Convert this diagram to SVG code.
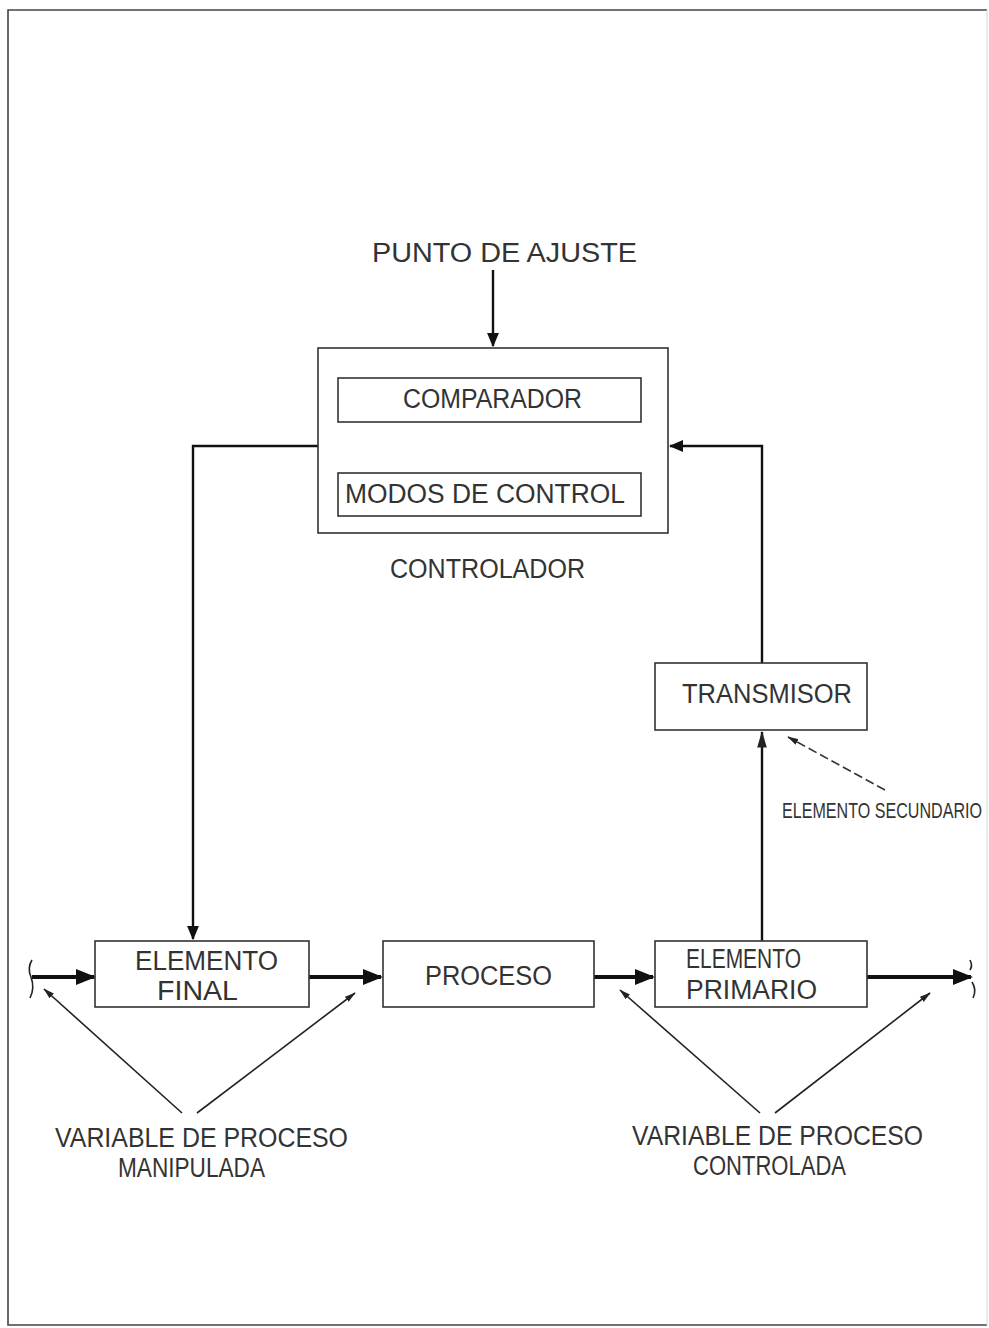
<svg xmlns="http://www.w3.org/2000/svg" width="989" height="1328" viewBox="0 0 989 1328">
<style>
.box{fill:none;stroke:#333;stroke-width:1.6}
.t{font-family:"Liberation Sans","DejaVu Sans",sans-serif;font-size:27px;fill:#333;}
.ts{font-family:"Liberation Sans","DejaVu Sans",sans-serif;font-size:16.2px;fill:#333;}
.flow{fill:none;stroke:#111;stroke-width:4}
.conn{fill:none;stroke:#111;stroke-width:2.4}
.diag{fill:none;stroke:#222;stroke-width:1.6}
.dash{fill:none;stroke:#333;stroke-width:1.6;stroke-dasharray:9 4}
</style>
<defs>
<marker id="big" markerWidth="5" markerHeight="4" refX="4.5" refY="2" orient="auto" markerUnits="strokeWidth"><path d="M0,0 L5,2 L0,4 Z" fill="#111"/></marker>
<marker id="med" markerWidth="6" markerHeight="5" refX="5.5" refY="2.5" orient="auto" markerUnits="strokeWidth"><path d="M0,0 L6,2.5 L0,5 Z" fill="#111"/></marker>
<marker id="sm" markerWidth="7" markerHeight="5" refX="6.5" refY="2.5" orient="auto" markerUnits="strokeWidth"><path d="M0,0.5 L7,2.5 L0,4.5 Z" fill="#222"/></marker>
</defs>

<g id="frame">
<path d="M987,10 L8,10 L8,1325 L987,1325" fill="none" stroke="#444" stroke-width="1.6"/>
<path d="M987,10 L987,1325" fill="none" stroke="#ddd" stroke-width="1.2"/>
</g>

<g id="connectors">
<line class="conn" x1="493" y1="270" x2="493" y2="346" marker-end="url(#med)"/>
<polyline class="conn" points="318,446 193,446 193,939" marker-end="url(#med)"/>
<line class="conn" x1="762" y1="941" x2="762" y2="732" marker-end="url(#sm)"/>
<polyline class="conn" points="762,663 762,446 670,446" marker-end="url(#med)"/>
<line class="flow" x1="32" y1="977" x2="94" y2="977" marker-end="url(#big)"/>
<line class="flow" x1="309" y1="977" x2="381" y2="977" marker-end="url(#big)"/>
<line class="flow" x1="594" y1="977" x2="653" y2="977" marker-end="url(#big)"/>
<line class="flow" x1="867" y1="977" x2="971" y2="977" marker-end="url(#big)"/>
<path d="M32,960 Q27,968 31,977 Q35,988 30,998" fill="none" stroke="#222" stroke-width="1.6"/>
<path d="M970,960 Q973,966 970,970 M972,982 Q977,990 973,998" fill="none" stroke="#222" stroke-width="1.6"/>
<line class="diag" x1="182" y1="1113" x2="44" y2="989" marker-end="url(#sm)"/>
<line class="diag" x1="197" y1="1113" x2="355" y2="993" marker-end="url(#sm)"/>
<line class="diag" x1="760" y1="1113" x2="620" y2="990" marker-end="url(#sm)"/>
<line class="diag" x1="775" y1="1113" x2="930" y2="993" marker-end="url(#sm)"/>
<line class="dash" x1="885" y1="790" x2="788" y2="737" marker-end="url(#sm)"/>
</g>

<g id="punto-ajuste">
<text class="t" x="372" y="262" textLength="265" lengthAdjust="spacingAndGlyphs">PUNTO DE AJUSTE</text>
</g>

<g id="controlador">
<rect class="box" x="318" y="348" width="350" height="185"/>
<text class="t" x="390" y="578" textLength="195" lengthAdjust="spacingAndGlyphs">CONTROLADOR</text>
</g>

<g id="comparador">
<rect class="box" x="338" y="378" width="303" height="44"/>
<text class="t" x="403" y="408" textLength="179" lengthAdjust="spacingAndGlyphs">COMPARADOR</text>
</g>

<g id="modos-control">
<rect class="box" x="338" y="473" width="303" height="43"/>
<text class="t" x="345" y="503" textLength="280" lengthAdjust="spacingAndGlyphs">MODOS DE CONTROL</text>
</g>

<g id="transmisor">
<rect class="box" x="655" y="663" width="212" height="67"/>
<text class="t" x="682" y="703" textLength="170" lengthAdjust="spacingAndGlyphs">TRANSMISOR</text>
</g>

<g id="elemento-secundario">
<text class="ts" transform="translate(782,818) scale(1,1.35)" x="0" y="0" textLength="200" lengthAdjust="spacingAndGlyphs">ELEMENTO SECUNDARIO</text>
</g>

<g id="elemento-final">
<rect class="box" x="95" y="941" width="214" height="66"/>
<text class="t" x="135" y="970" textLength="143" lengthAdjust="spacingAndGlyphs">ELEMENTO</text>
<text class="t" x="157" y="1000" textLength="81" lengthAdjust="spacingAndGlyphs">FINAL</text>
</g>

<g id="proceso">
<rect class="box" x="383" y="941" width="211" height="66"/>
<text class="t" x="425" y="985" textLength="127" lengthAdjust="spacingAndGlyphs">PROCESO</text>
</g>

<g id="elemento-primario">
<rect class="box" x="655" y="941" width="212" height="66"/>
<text class="t" x="686" y="968" textLength="115" lengthAdjust="spacingAndGlyphs">ELEMENTO</text>
<text class="t" x="686" y="999" textLength="131" lengthAdjust="spacingAndGlyphs">PRIMARIO</text>
</g>

<g id="variable-manipulada">
<text class="t" x="55" y="1147" textLength="293" lengthAdjust="spacingAndGlyphs">VARIABLE DE PROCESO</text>
<text class="t" x="118" y="1177" textLength="147" lengthAdjust="spacingAndGlyphs">MANIPULADA</text>
</g>

<g id="variable-controlada">
<text class="t" x="632" y="1145" textLength="291" lengthAdjust="spacingAndGlyphs">VARIABLE DE PROCESO</text>
<text class="t" x="693" y="1175" textLength="153" lengthAdjust="spacingAndGlyphs">CONTROLADA</text>
</g>
</svg>
